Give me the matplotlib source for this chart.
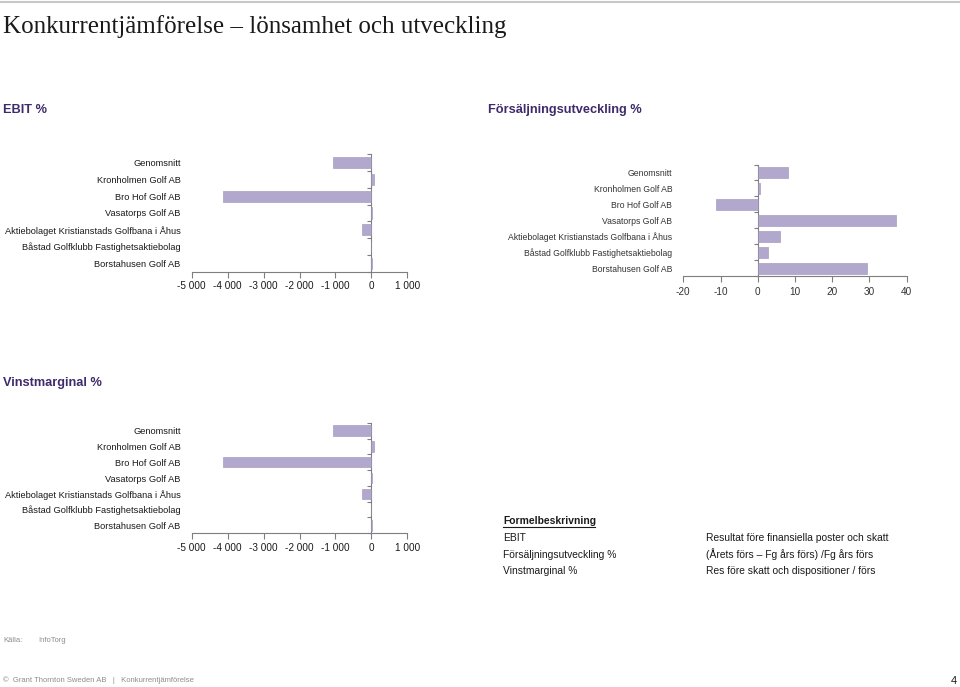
import matplotlib
matplotlib.use("Agg")
import matplotlib.pyplot as plt
from matplotlib.ticker import FuncFormatter

plt.rcParams['font.family'] = ['Liberation Sans', 'DejaVu Sans']
plt.rcParams['axes.unicode_minus'] = False

companies = [
    "Genomsnitt",
    "Kronholmen Golf AB",
    "Bro Hof Golf AB",
    "Vasatorps Golf AB",
    "Aktiebolaget Kristianstads Golfbana i Åhus",
    "Båstad Golfklubb Fastighetsaktiebolag",
    "Borstahusen Golf AB",
]

ebit = [-1070, 60, -4120, 30, -260, -15, 10]
forsaljning = [8.0, 0.5, -11.2, 37.1, 6.0, 2.8, 29.4]
vinstmarginal = [-1070, 60, -4120, 30, -260, -15, 10]

ebit_ticks = [-5000, -4000, -3000, -2000, -1000, 0, 1000]
fors_ticks = [-20, -10, 0, 10, 20, 30, 40]

bar_color = "#B2A7CC"
purple = "#3F2A6B"
axis_grey = "#7F7F7F"
text_color = "#1A1A1A"


def thousands(x, pos):
    return f"{int(x):,}".replace(",", " ")


def bar_panel(fig, rect, values, ticks, fmt=None, label_size=6.7, xtick_size=7.2,
              tick_color=text_color, xpad=3):
    ax = fig.add_axes(rect)
    y = list(range(len(companies)))
    ax.barh(y, values, height=0.66, color=bar_color, edgecolor="#9A90B3", linewidth=0.4)
    ax.set_ylim(len(companies) - 0.5, -0.5)
    ax.set_xlim(ticks[0], ticks[-1])
    ax.set_xticks(ticks)
    if fmt:
        ax.xaxis.set_major_formatter(FuncFormatter(fmt))
    ax.set_yticks(y)
    ax.set_yticklabels(companies)
    for s in ("top", "right", "left"):
        ax.spines[s].set_visible(False)
    ax.spines["bottom"].set_color(axis_grey)
    ax.spines["bottom"].set_linewidth(0.8)
    ax.tick_params(axis="y", length=0, pad=8)
    ax.tick_params(axis="x", length=4, color=axis_grey, pad=xpad)
    for lab in ax.get_yticklabels():
        lab.set_fontsize(label_size)
        lab.set_color(tick_color)
    for lab in ax.get_xticklabels():
        lab.set_fontsize(xtick_size)
        lab.set_color(tick_color)

    # category axis drawn at zero with boundary ticks
    sec = ax.secondary_yaxis(0, transform=ax.transData)
    sec.set_yticks([i - 0.5 for i in range(len(companies) + 1)])
    sec.set_yticklabels([])
    sec.spines["left"].set_color(axis_grey)
    sec.spines["left"].set_linewidth(0.8)
    sec.tick_params(axis="y", length=3, color=axis_grey)
    return ax


W, H = 960, 687
fig = plt.figure(figsize=(W / 100, H / 100), dpi=100)


def fx(px):
    return px / W


def fy(px):
    return 1 - px / H


def rect(left, top, right, bottom):
    return [fx(left), fy(bottom), fx(right - left), (bottom - top) / H]


# header
fig.add_artist(plt.Line2D([0, 1], [fy(2), fy(2)], color="#C8C8C8", linewidth=1.5))
fig.text(fx(3), fy(27), "Konkurrentjämförelse – lönsamhet och utveckling",
         family=["Liberation Serif", "DejaVu Serif"], fontsize=18, color=text_color,
         va="center", ha="left")

fig.text(fx(3), fy(110), "EBIT %", fontsize=9.2, fontweight="bold", color=purple, va="center")
fig.text(fx(488), fy(110), "Försäljningsutveckling %", fontsize=9.2, fontweight="bold",
         color=purple, va="center")
fig.text(fx(3), fy(383), "Vinstmarginal %", fontsize=9.2, fontweight="bold", color=purple,
         va="center")

bar_panel(fig, rect(191.7, 154.3, 407.3, 271.7), ebit, ebit_ticks, fmt=thousands)
bar_panel(fig, rect(683.3, 164.5, 906.7, 276.3), forsaljning, fors_ticks,
          label_size=6.2, xtick_size=7.2, tick_color="#333333", xpad=4)
bar_panel(fig, rect(191.7, 422.8, 407.3, 533.2), vinstmarginal, ebit_ticks, fmt=thousands)

# formula description
fig.text(fx(503), fy(521), "Formelbeskrivning", fontsize=7.4, fontweight="bold",
         color=text_color, va="center")
fig.add_artist(plt.Line2D([fx(503), fx(595)], [fy(527), fy(527)], color=text_color,
                          linewidth=0.8))
rows = [
    ("EBIT", "Resultat före finansiella poster och skatt"),
    ("Försäljningsutveckling %", "(Årets förs – Fg års förs) /Fg års förs"),
    ("Vinstmarginal %", "Res före skatt och dispositioner / förs"),
]
for i, (a, b) in enumerate(rows):
    yy = 538 + i * 16.5
    fig.text(fx(503), fy(yy), a, fontsize=7.4, color=text_color, va="center")
    fig.text(fx(706), fy(yy), b, fontsize=7.4, color=text_color, va="center")

# footer
fig.text(fx(3), fy(640), "Källa:", fontsize=5.5, color="#8C8C8C", va="center")
fig.text(fx(38), fy(640), "InfoTorg", fontsize=5.5, color="#8C8C8C", va="center")
fig.text(fx(3), fy(680), "©  Grant Thornton Sweden AB   |   Konkurrentjämförelse",
         fontsize=5.5, color="#8C8C8C", va="center")
fig.text(fx(957), fy(681), "4", fontsize=8, color=text_color, va="center", ha="right")

fig.savefig("out.png", dpi=100)
